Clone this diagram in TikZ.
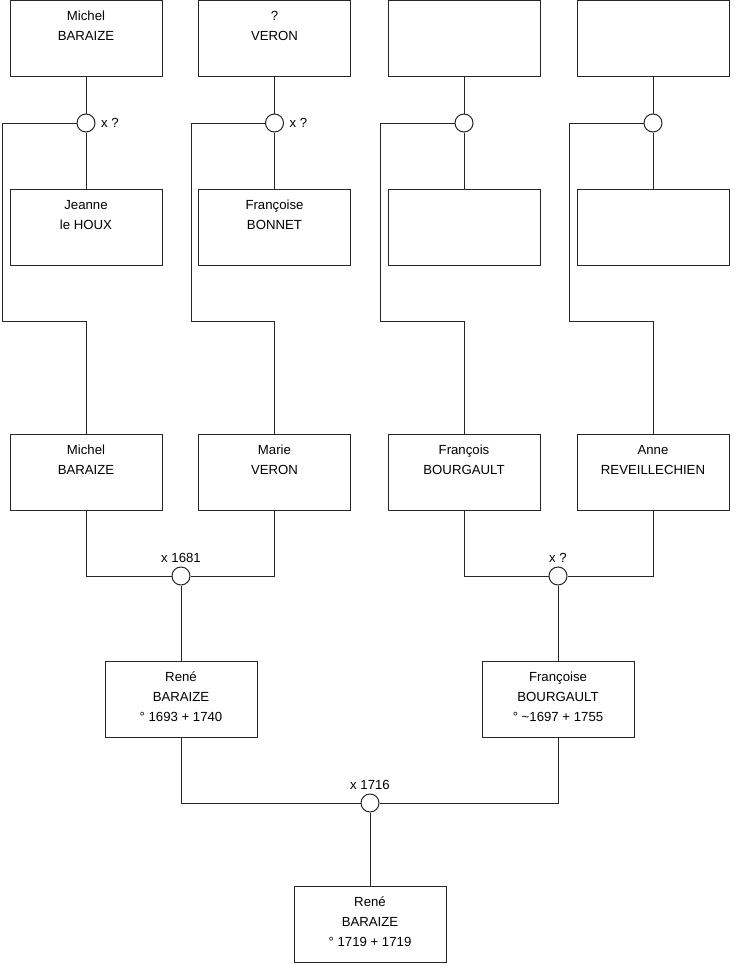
\documentclass[tikz,border=0pt]{standalone}
\usepackage{fontspec}
\setmainfont{Liberation Sans}
\definecolor{trait}{HTML}{262626}
\tikzset{
  pers/.style={draw=trait,line width=0.75pt,minimum width=114pt,minimum height=57pt,inner sep=0pt},
  noeud/.style={circle,draw=trait,fill=white,line width=0.75pt,minimum size=13.5pt,inner sep=0pt},
  lien/.style={trait,line width=0.75pt},
  mar/.style={font=\fontsize{9.9}{11}\selectfont,inner sep=1pt},
}
\newcommand\fiche[1]{\parbox[c][57pt][t]{112pt}{\centering\fontsize{9.9}{15}\selectfont\rule{0pt}{15pt}#1}}

\begin{document}
\begin{tikzpicture}[x=0.75pt,y=-0.75pt]
  \useasboundingbox (0,0) rectangle (740,975);
  % arriere-grands-parents
  \node[pers] (a1) at (86,38) {\fiche{Michel\\BARAIZE}};
  \node[pers] (a2) at (274.5,38) {\fiche{?\\VERON}};
  \node[pers] (a3) at (464,38) {\fiche{}};
  \node[pers] (a4) at (653,38) {\fiche{}};
  \node[pers] (b1) at (86,227) {\fiche{Jeanne\\le HOUX}};
  \node[pers] (b2) at (274.5,227) {\fiche{Françoise\\BONNET}};
  \node[pers] (b3) at (464,227) {\fiche{}};
  \node[pers] (b4) at (653,227) {\fiche{}};
  \node[noeud] (u1) at (86,123) {};
  \node[noeud] (u2) at (274.5,123) {};
  \node[noeud] (u3) at (464,123) {};
  \node[noeud] (u4) at (653,123) {};
  \node[mar,anchor=west] (x1) at ([xshift=3pt]u1.east) {x ?};
  \node[mar,anchor=west] (x2) at ([xshift=3pt]u2.east) {x ?};
  % grands-parents
  \node[pers] (p1) at (86,472) {\fiche{Michel\\BARAIZE}};
  \node[pers] (p2) at (274.5,472) {\fiche{Marie\\VERON}};
  \node[pers] (p3) at (464,472) {\fiche{François\\BOURGAULT}};
  \node[pers] (p4) at (653,472) {\fiche{Anne\\REVEILLECHIEN}};
  \coordinate (k1) at (2,321);
  \coordinate (k2) at (191,321);
  \coordinate (k3) at (380,321);
  \coordinate (k4) at (569,321);
  \node[noeud] (m1) at (181,576) {};
  \node[noeud] (m2) at (558,576) {};
  \node[mar,anchor=south] (y1) at ([yshift=2pt]m1.north) {x 1681};
  \node[mar,anchor=south] (y2) at ([yshift=2pt]m2.north) {x ?};
  % parents
  \node[pers] (r1) at (181,699) {\fiche{René\\BARAIZE\\° 1693 + 1740}};
  \node[pers] (r2) at (558,699) {\fiche{Françoise\\BOURGAULT\\° \textasciitilde1697 + 1755}};
  \node[noeud] (m3) at (370,803) {};
  \node[mar,anchor=south] (y3) at ([yshift=2pt]m3.north) {x 1716};
  \node[pers] (e1) at (370,924) {\fiche{René\\BARAIZE\\° 1719 + 1719}};
  % liens
  \foreach \i in {1,...,4} {
    \draw[lien] (a\i) -- (u\i) -- (b\i);
    \draw[lien] (u\i) -| (k\i) -| (p\i);
  }
  \draw[lien] (p1) |- (m1) -| (p2);
  \draw[lien] (p3) |- (m2) -| (p4);
  \draw[lien] (m1) -- (r1);
  \draw[lien] (m2) -- (r2);
  \draw[lien] (r1) |- (m3) -| (r2);
  \draw[lien] (m3) -- (e1);
\end{tikzpicture}
\end{document}
